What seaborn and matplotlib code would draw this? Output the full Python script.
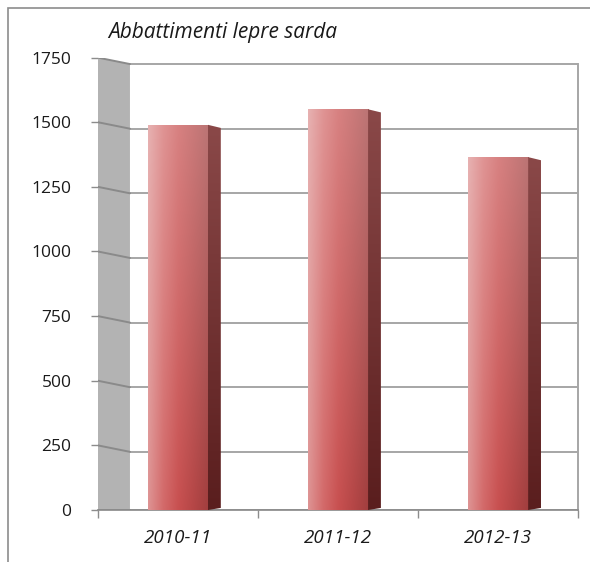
import numpy as np
import pandas as pd
import matplotlib
matplotlib.use("Agg")
import matplotlib.pyplot as plt
import seaborn as sns
from matplotlib.patches import Polygon, Rectangle
from matplotlib.colors import LinearSegmentedColormap

# data
stagioni = ["2010-11", "2011-12", "2012-13"]
abbattimenti = [1490, 1550, 1365]
y_ticks = [0, 250, 500, 750, 1000, 1250, 1500, 1750]
titolo = "Abbattimenti lepre sarda"

df = pd.DataFrame({"stagione": stagioni, "capi": abbattimenti})

sns.set_theme(style="white")
plt.rcParams["font.family"] = ["Open Sans", "DejaVu Sans"]

fig = plt.figure(figsize=(5.90, 5.62), dpi=100)
ax = fig.add_axes([0.166, 0.0925, 0.814, 0.805])

sns.barplot(data=df, x="stagione", y="capi", width=0.375, color="#c0504d",
            edgecolor="none", ax=ax, zorder=3)
bars = list(ax.patches)

ax.set_xlim(-0.5, 2.5)
ax.set_ylim(0, 1750)

# grey side wall on the left (slanted top, like the 3D original)
wall = Polygon([(-0.5, 0), (-0.3, 0), (-0.3, 1725), (-0.5, 1750)], closed=True,
               facecolor="#b3b3b3", edgecolor="none", zorder=1)
ax.add_patch(wall)

# gridlines: back wall + short slanted pieces on the side wall
for t in y_ticks:
    back = t - 25 if t else t
    ax.plot([-0.3, 2.5], [back, back], color="#a6a6a6", lw=1.4, zorder=2)
    ax.plot([-0.5, -0.3], [t, back], color="#8a8a8a", lw=1.4, zorder=2)

# gradient fill + dark side face for each bar
cmap = LinearSegmentedColormap.from_list(
    "bar", ["#de9494", "#d36a6a", "#c85050", "#b54646", "#a03e3e"])
side_cmap = LinearSegmentedColormap.from_list("side", ["#5a1e1e", "#8a4848"])
gx = np.tile(np.linspace(0, 1, 256), (128, 1))
gy = np.linspace(0, 1, 128)[:, None]
for p in bars:
    x0, w, h = p.get_x(), p.get_width(), p.get_height()
    img = cmap(gx)
    fade = 0.28 * gy  # lighter towards the top
    img[..., :3] = img[..., :3] + (1 - img[..., :3]) * fade[:, :, None]
    im = ax.imshow(img, extent=[x0, x0 + w, 0, h], aspect="auto",
                   origin="lower", zorder=3.5)
    im.set_clip_path(p)
    p.set_alpha(0)
    x1 = x0 + w
    side = Polygon([(x1, 0), (x1 + 0.08, 8), (x1 + 0.08, h - 12), (x1, h)],
                   closed=True, facecolor="none", edgecolor="none", zorder=3.6)
    ax.add_patch(side)
    sim = ax.imshow(side_cmap(np.tile(np.linspace(0, 1, 64)[:, None], (1, 8))),
                    extent=[x1, x1 + 0.08, 0, h], aspect="auto", origin="lower", zorder=3.6)
    sim.set_clip_path(side)

ax.set_xlim(-0.5, 2.5)
ax.set_ylim(0, 1750)

ax.set_yticks(y_ticks)
ax.set_yticklabels([str(t) for t in y_ticks], fontsize=12.5, color="#1a1a1a")
ax.tick_params(axis="y", length=5, width=1, color="#8c8c8c", left=True, pad=14)
ax.set_xticks(range(len(stagioni)))
ax.set_xticklabels(stagioni, fontsize=13.5, style="italic", color="#1a1a1a")
ax.tick_params(axis="x", length=0, pad=14)
ax.set_xticks([-0.5, 0.5, 1.5, 2.5], minor=True)
ax.tick_params(axis="x", which="minor", length=6, width=1, color="#8c8c8c", bottom=True)

ax.set_xlabel("")
ax.set_ylabel("")
for s in ["top", "left"]:
    ax.spines[s].set_visible(False)
ax.spines["bottom"].set_color("#8c8c8c")
ax.spines["right"].set_color("#a6a6a6")
ax.spines["right"].set_linewidth(1.4)
ax.spines["right"].set_bounds(0, 1725)

fig.text(0.183, 0.943, titolo, fontsize=15, style="italic", color="#1a1a1a",
         ha="left", va="center")

# frame around the whole chart
fig.add_artist(Rectangle((0.014, -0.05), 1.2, 1.035, transform=fig.transFigure,
                         fill=False, edgecolor="#8c8c8c", lw=1.2))

fig.savefig("out.png", dpi=100)
